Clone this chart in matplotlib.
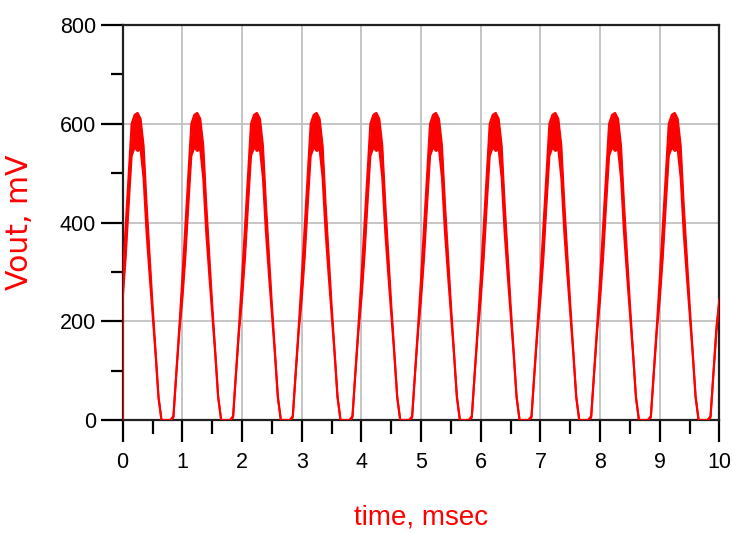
#!/usr/bin/env python
"""
Rectifier output transient: Vout (mV) vs time (msec).
Ten identical periods of 1 ms; the upper half of each pulse carries a
switching ripple, drawn as a filled band between two envelopes.
"""

import matplotlib
matplotlib.use("Agg")
import matplotlib.pyplot as plt
import matplotlib.ticker as ticker
import numpy as np

# ---------------------------------------------------------------------------
# Data (one period; every period looks the same)
# ---------------------------------------------------------------------------

PERIOD_MS = 1.0
N_PERIODS = 10

# time inside one period, msec
cycle_t = [0.00, 0.05, 0.10, 0.15, 0.20, 0.25, 0.30, 0.35, 0.40, 0.45,
           0.50, 0.55, 0.60, 0.65, 0.70, 0.75, 0.80, 0.85, 0.90, 0.95]
# ripple band, upper edge (mV)
cycle_upper = [288, 392, 498, 600, 618, 622, 610, 556, 438, 335,
               234, 140, 48, 0, 0, 0, 0, 8, 100, 190]
# ripple band, lower edge (mV)
cycle_lower = [245, 330, 435, 535, 552, 545, 548, 490, 380, 295,
               215, 135, 45, 0, 0, 0, 0, 5, 95, 180]

START_MV = 0      # trace starts from 0 V at t = 0
END_MV = 245      # value at the right edge (t = 10 ms)

x_ticks = [0, 1, 2, 3, 4, 5, 6, 7, 8, 9, 10]
y_ticks = [0, 200, 400, 600, 800]

RED = "#FF0000"
FONT = "Liberation Sans"


def build_trace():
    """Repeat the measured period over the 10 ms window."""
    t, up, lo = [0.0], [START_MV], [START_MV]
    for k in range(N_PERIODS):
        t += [k * PERIOD_MS + c for c in cycle_t]
        up += cycle_upper
        lo += cycle_lower
    t.append(N_PERIODS * PERIOD_MS)
    up.append(END_MV)
    lo.append(END_MV)
    return np.array(t), np.array(up), np.array(lo)


def main():
    t, up, lo = build_trace()

    fig = plt.figure(figsize=(7.32, 5.33), dpi=100)
    ax = fig.add_axes([0.1676, 0.2120, 0.8153, 0.7411])

    ax.fill_between(t, lo, up, color=RED, lw=0, zorder=3)
    ax.plot(t, up, color=RED, lw=1.5, zorder=3)
    ax.plot(t, lo, color=RED, lw=1.5, zorder=3)

    ax.set_xlim(0, 10)
    ax.set_ylim(0, 800)
    ax.set_xticks(x_ticks)
    ax.set_yticks(y_ticks)
    ax.xaxis.set_minor_locator(ticker.MultipleLocator(0.5))
    ax.yaxis.set_minor_locator(ticker.MultipleLocator(100))

    ax.grid(True, which="major", color="#C0C0C0", lw=1.3)
    ax.set_axisbelow(True)

    for sp in ax.spines.values():
        sp.set_linewidth(1.6)
        sp.set_color("#202020")

    ax.tick_params(axis="x", which="major", length=16, width=1.6,
                   pad=7, labelsize=15.5)
    ax.tick_params(axis="x", which="minor", length=10, width=1.6)
    ax.tick_params(axis="y", which="major", length=15.5, width=1.6,
                   pad=3.6, labelsize=15.5)
    ax.tick_params(axis="y", which="minor", length=8.4, width=1.6)

    ax.set_xlabel("time, msec", color=RED, fontsize=20, family=FONT)
    ax.set_ylabel("Vout, mV", color=RED, fontsize=21.5, family="DejaVu Sans")
    ax.xaxis.set_label_coords(0.5, -0.215)
    ax.yaxis.set_label_coords(-0.148, 0.5)

    for lab in ax.get_xticklabels() + ax.get_yticklabels():
        lab.set_family(FONT)

    fig.savefig("out.png", dpi=100)
    plt.close(fig)


if __name__ == "__main__":
    main()
